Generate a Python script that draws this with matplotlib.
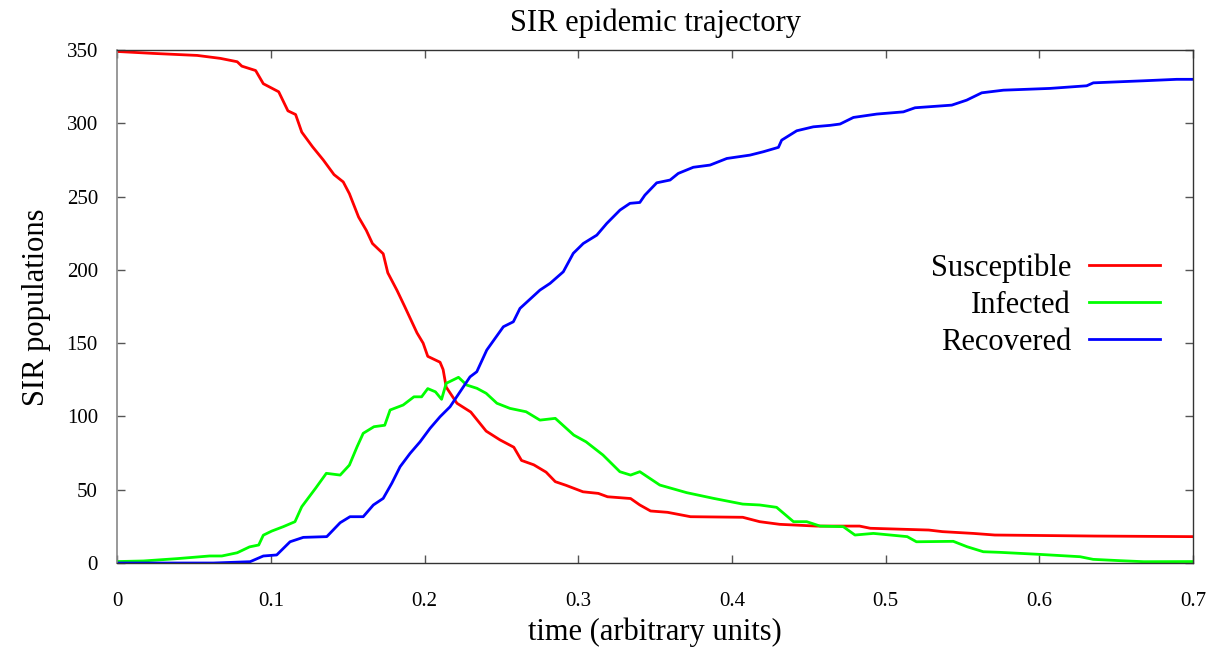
import matplotlib
matplotlib.use("Agg")
import matplotlib.pyplot as plt

# Траектория SIR, значения
t_S = [0, 0.023, 0.052, 0.067, 0.078, 0.081, 0.090, 0.095, 0.105, 0.111,
       0.116, 0.120, 0.127, 0.134, 0.141, 0.147, 0.151, 0.157, 0.162, 0.166,
       0.173, 0.176, 0.182, 0.187, 0.191, 0.195, 0.199, 0.202, 0.210, 0.212,
       0.214, 0.221, 0.230, 0.240, 0.249, 0.258, 0.263, 0.271, 0.279, 0.285,
       0.292, 0.303, 0.313, 0.319, 0.334, 0.340, 0.347, 0.358, 0.373, 0.407,
       0.418, 0.431, 0.455, 0.483, 0.490, 0.528, 0.537, 0.557, 0.571, 0.636,
       0.700]
S = [349, 347.7, 346.3, 344.3, 342, 339, 336, 327, 321.5, 308.5,
     306, 294, 284, 275, 265, 260, 252, 236, 227, 218,
     211, 198, 186, 175, 166, 157, 150, 141, 137, 132,
     120, 109, 103, 90, 84, 79, 70, 67, 62, 55.5,
     53, 48.6, 47.5, 45.2, 44, 39.6, 35.5, 34.6, 31.6, 31.2,
     28.2, 26.4, 25.2, 25.2, 23.7, 22.5, 21.4, 20.2, 19.1, 18.4,
     18]

t_I = [0, 0.017, 0.039, 0.060, 0.068, 0.078, 0.086, 0.092, 0.095, 0.1005,
       0.108, 0.1156, 0.120, 0.129, 0.136, 0.145, 0.151, 0.156, 0.160, 0.167,
       0.174, 0.1775, 0.186, 0.193, 0.198, 0.202, 0.207, 0.211, 0.214, 0.222,
       0.2274, 0.234, 0.240, 0.247, 0.2555, 0.266, 0.275, 0.285, 0.297, 0.305,
       0.316, 0.327, 0.334, 0.340, 0.353, 0.3705, 0.388, 0.407, 0.418, 0.429,
       0.440, 0.4486, 0.4573, 0.4724, 0.480, 0.492, 0.514, 0.520, 0.544, 0.553,
       0.5635, 0.574, 0.600, 0.6265, 0.635, 0.6525, 0.668, 0.700]
I = [1, 1.4, 3, 4.8, 4.8, 7, 11, 12.3, 19, 21.8,
     24.8, 28.2, 38.4, 51, 61.2, 60, 66.8, 79.3, 88.5, 93,
     94, 104.4, 107.8, 113.4, 113.4, 119, 116.8, 111.7, 122.6, 126.7,
     121.4, 119.2, 115.8, 109, 105.5, 103.2, 97.5, 98.7, 87.3, 82.7,
     73.7, 62.3, 60, 62.3, 53.2, 48, 44.1, 40.2, 39.6, 38,
     28.2, 28.2, 25.2, 24.8, 19.1, 20.2, 18, 14.5, 14.8, 11.1,
     7.7, 7.3, 5.9, 4.3, 2.5, 1.6, 0.9, 1]

t_R = [0, 0.0625, 0.0864, 0.095, 0.1037, 0.1124, 0.121, 0.1363, 0.145, 0.1514,
       0.160, 0.1666, 0.173, 0.1786, 0.184, 0.1905, 0.197, 0.2035, 0.210, 0.2165,
       0.223, 0.2295, 0.2339, 0.2404, 0.2512, 0.2577, 0.262, 0.275, 0.2816, 0.2902,
       0.2967, 0.3032, 0.312, 0.3185, 0.3271, 0.3336, 0.340, 0.3433, 0.351, 0.3597,
       0.365, 0.3748, 0.3857, 0.3966, 0.4117, 0.4204, 0.4302, 0.4323, 0.4421, 0.4529,
       0.4638, 0.4703, 0.479, 0.4942, 0.5115, 0.5191, 0.543, 0.5527, 0.5625, 0.5766,
       0.6069, 0.6308, 0.6351, 0.6677, 0.6894, 0.700]
R = [0, 0, 0.9, 4.8, 5.5, 14.5, 17.5, 18, 27.5, 31.6,
     31.6, 39.6, 44.1, 54.4, 65.7, 74.8, 82.7, 91.9, 99.8, 106.6,
     116.8, 127, 130.5, 145.3, 161.2, 164.6, 173.7, 186.2, 190.8, 198.7,
     211.3, 218, 223.7, 231.7, 240.8, 245.4, 246, 251, 259.4, 261.3,
     265.8, 270, 271.5, 276, 278.3, 280.6, 283.6, 288.5, 294.9, 297.6,
     298.6, 299.5, 304, 306.3, 307.8, 310.6, 312.4, 315.8, 320.8, 322.6,
     323.8, 325.6, 327.6, 329, 330, 330]

x_ticks = [0, 0.1, 0.2, 0.3, 0.4, 0.5, 0.6, 0.7]
x_tick_labels = ["0", "0.1", "0.2", "0.3", "0.4", "0.5", "0.6", "0.7"]
y_ticks = [0, 50, 100, 150, 200, 250, 300, 350]

plt.rcParams['font.family'] = ['Liberation Serif', 'DejaVu Serif']

fig = plt.figure(figsize=(12.21, 6.47), dpi=100)
ax = fig.add_axes([0.0961, 0.1298, 0.8810, 0.7929])

ax.plot(t_S, S, color='#ff0000', lw=2.0, label='Susceptible')
ax.plot(t_I, I, color='#00ff00', lw=2.0, label='Infected')
ax.plot(t_R, R, color='#0000ff', lw=2.0, label='Recovered')

ax.set_xlim(0, 0.7)
ax.set_ylim(0, 350)
ax.set_xticks(x_ticks)
ax.set_xticklabels(x_tick_labels)
ax.set_yticks(y_ticks)

# рамка как в gnuplot: тики внутрь со всех сторон
for side in ['top', 'right', 'bottom']:
    ax.spines[side].set_color('#333333')
    ax.spines[side].set_linewidth(1.0)
ax.spines['left'].set_color('#888888')
ax.spines['left'].set_linewidth(1.2)
ax.tick_params(axis='both', direction='in', length=6, width=1, color='#555555',
               top=True, right=True, labelsize=15)
ax.tick_params(axis='x', pad=21)
ax.tick_params(axis='y', pad=14)

fig.text(0.5365, 1 - 23 / 647, 'SIR epidemic trajectory', fontsize=22,
         ha='center', va='center')
fig.text(0.5365, 1 - 632 / 647, 'time (arbitrary units)', fontsize=22,
         ha='center', va='center')
fig.text(37 / 1221, 1 - 307 / 647, 'SIR populations', fontsize=22,
         ha='center', va='center', rotation=90)

ax.legend(loc='upper right', bbox_to_anchor=(0.969, 0.604), frameon=False,
          markerfirst=False, fontsize=22, handlelength=2.3, handletextpad=0.6,
          labelspacing=0.26, borderpad=0, borderaxespad=0)

fig.savefig('out.png', dpi=100)
